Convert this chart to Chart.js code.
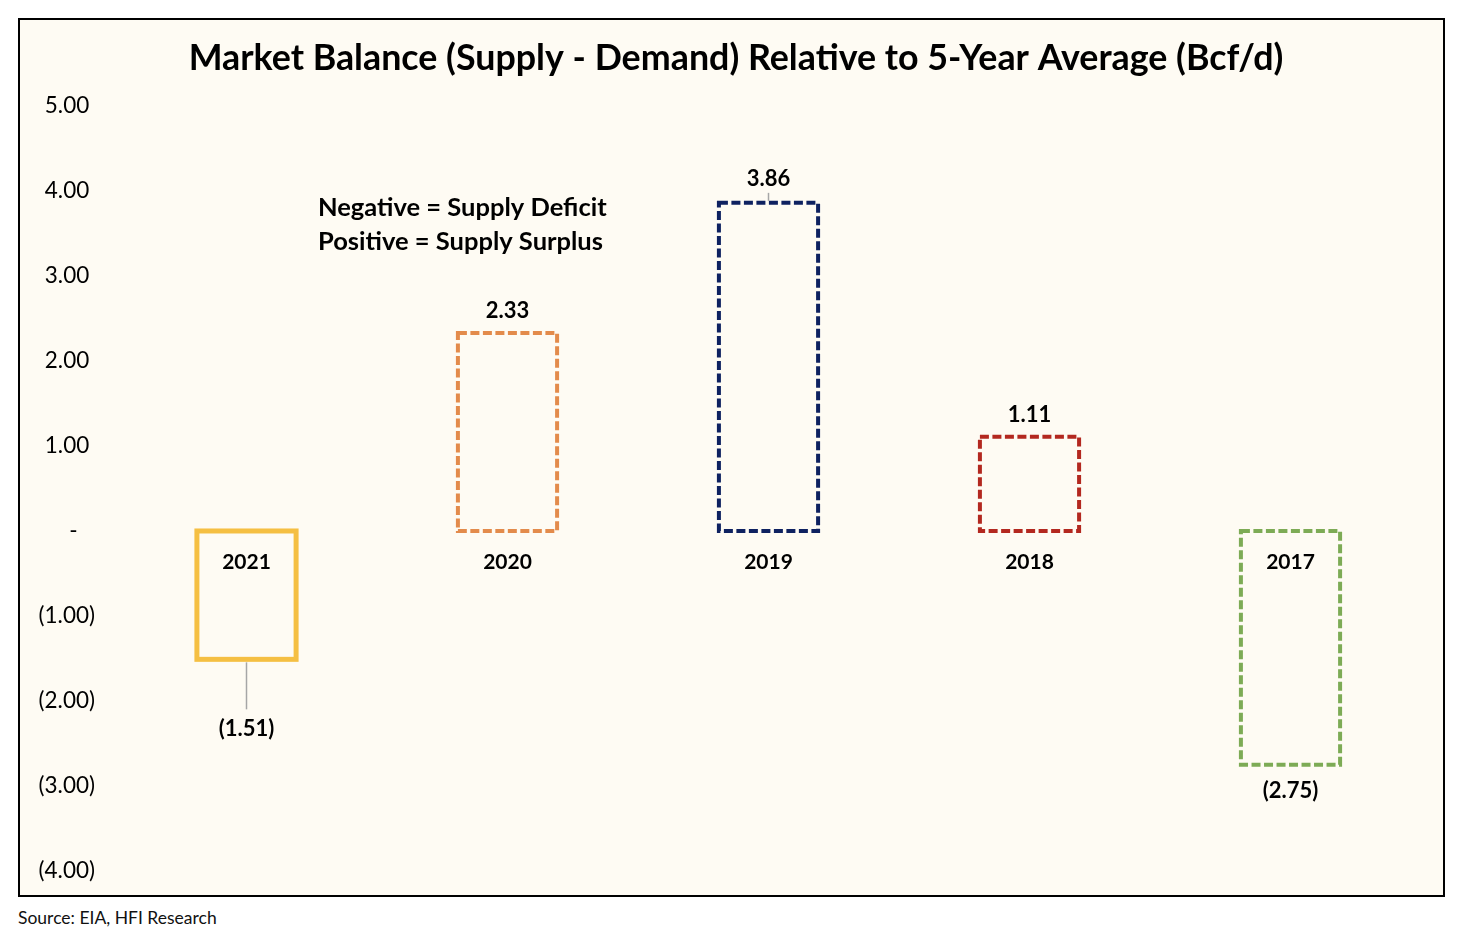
<!DOCTYPE html>
<html>
<head>
<meta charset="utf-8">
<script src="https://cdn.jsdelivr.net/npm/chart.js@4"></script>
<style>
  html, body { margin: 0; padding: 0; background: #fff; }
  #box {
    position: absolute; left: 18px; top: 18px;
    width: 1427px; height: 879px; box-sizing: border-box;
    border: 2px solid #000; background: #fefbf3;
  }
  #myChart { display: block; }
  #source {
    position: absolute; left: 18px; top: 907px;
    font: 17.5px Lato, sans-serif; color: #111;
  }
</style>
</head>
<body>
<div id="box"><canvas id="myChart" width="1423" height="875"></canvas></div>
<div id="source">Source: EIA, HFI Research</div>
<script>
// chart values
const years = ['2021', '2020', '2019', '2018', '2017'];
const balance = [-1.51, 2.33, 3.86, 1.11, -2.75];
const yMin = -4;
const yMax = 5;
const yStep = 1;
const noteLines = ['Negative = Supply Deficit', 'Positive = Supply Surplus'];

// styles
const outlineColors = ['#f5bf42', '#e38b4b', '#0e2160', '#b3281f', '#7dab55'];
const outlineDashed = [false, true, true, true, true];

function fmt(v) {
  if (v < 0) return '(' + Math.abs(v).toFixed(2) + ')';
  return v.toFixed(2);
}

// draws bar outlines (dashed where needed), value labels and the note
const outlinePlugin = {
  id: 'outlines',
  afterDatasetsDraw(chart, args, opts) {
    const ctx = chart.ctx;
    const meta = chart.getDatasetMeta(0);
    ctx.save();
    meta.data.forEach(function (bar, i) {
      const p = bar.getProps(['x', 'y', 'base', 'width'], true);
      const top = Math.min(p.y, p.base);
      const h = Math.abs(p.base - p.y);
      ctx.strokeStyle = outlineColors[i];
      if (outlineDashed[i]) {
        ctx.lineWidth = 4;
        ctx.setLineDash([9, 3.5]);
      } else {
        ctx.lineWidth = 5;
        ctx.setLineDash([]);
      }
      ctx.strokeRect(p.x - p.width / 2, top, p.width, h);

      // value label
      const v = balance[i];
      const shift = opts.labelShift[i];
      ctx.setLineDash([]);
      ctx.fillStyle = '#000';
      ctx.font = 'bold 22px Lato, sans-serif';
      ctx.textAlign = 'center';
      ctx.textBaseline = 'middle';
      let ly;
      if (v >= 0) {
        ly = p.y - shift;
      } else {
        ly = p.y + shift;
      }
      ctx.fillText(fmt(v), p.x, ly);

      // leader line when the label was pulled away
      const lead = opts.leader[i];
      if (lead) {
        ctx.strokeStyle = '#a6a6a6';
        ctx.lineWidth = 1.5;
        ctx.beginPath();
        if (v >= 0) {
          ctx.moveTo(p.x, p.y - 2);
          ctx.lineTo(p.x, p.y - lead);
        } else {
          ctx.moveTo(p.x, p.y + 3);
          ctx.lineTo(p.x, p.y + lead);
        }
        ctx.stroke();
      }
    });

    // note text
    const area = chart.chartArea;
    ctx.fillStyle = '#000';
    ctx.font = 'bold 25.5px Lato, sans-serif';
    ctx.textAlign = 'left';
    ctx.textBaseline = 'middle';
    noteLines.forEach(function (line, k) {
      ctx.fillText(line, area.left + 202, area.top + 102 + k * 34);
    });
    ctx.restore();
  }
};

const ctx = document.getElementById('myChart').getContext('2d');
const myChart = new Chart(ctx, {
  type: 'bar',
  data: {
    labels: years,
    datasets: [{
      data: balance,
      backgroundColor: 'rgba(0,0,0,0)',
      borderWidth: 0,
      barPercentage: 0.38,
      categoryPercentage: 1.0
    }]
  },
  options: {
    responsive: false,
    animation: false,
    layout: { padding: { left: 9, right: 0, top: 0, bottom: 24 } },
    plugins: {
      legend: { display: false },
      tooltip: { enabled: false },
      title: {
        display: true,
        text: 'Market Balance (Supply - Demand) Relative to 5-Year Average (Bcf/d)',
        color: '#000',
        font: { family: 'Lato, sans-serif', size: 35.8, weight: 'bold' },
        padding: { top: 17, bottom: 26 }
      },
      outlines: {
        labelShift: [70, 22, 24, 22, 26],
        leader: [50, 0, 10, 0, 0]
      }
    },
    scales: {
      x: {
        position: { y: 0 },
        grid: { display: false, drawTicks: false },
        border: { display: false },
        afterFit: function (scale) { scale.height = 0; },
        ticks: {
          color: '#000',
          padding: 19,
          maxRotation: 0,
          font: { family: 'Lato, sans-serif', size: 21, weight: 'bold' }
        }
      },
      y: {
        min: yMin,
        max: yMax,
        grid: { display: false, drawTicks: false },
        border: { display: false },
        afterFit: function (scale) {
          scale.width = 87;
          scale.paddingTop = 0;
          scale.paddingBottom = 0;
        },
        ticks: {
          stepSize: yStep,
          color: '#000',
          padding: 21,
          font: { family: 'Lato, sans-serif', size: 22.5 },
          callback: function (v) {
            if (v === 0) return '-   ';
            if (v > 0) return fmt(v) + ' ';
            return fmt(v);
          }
        }
      },
      // empty right-hand spacer so the plot stops short of the frame
      spacer: {
        type: 'linear',
        position: 'right',
        min: 0,
        max: 1,
        grid: { display: false, drawTicks: false },
        border: { display: false },
        ticks: { display: false },
        afterFit: function (scale) { scale.width = 22; }
      }
    }
  },
  plugins: [outlinePlugin]
});
</script>
</body>
</html>
